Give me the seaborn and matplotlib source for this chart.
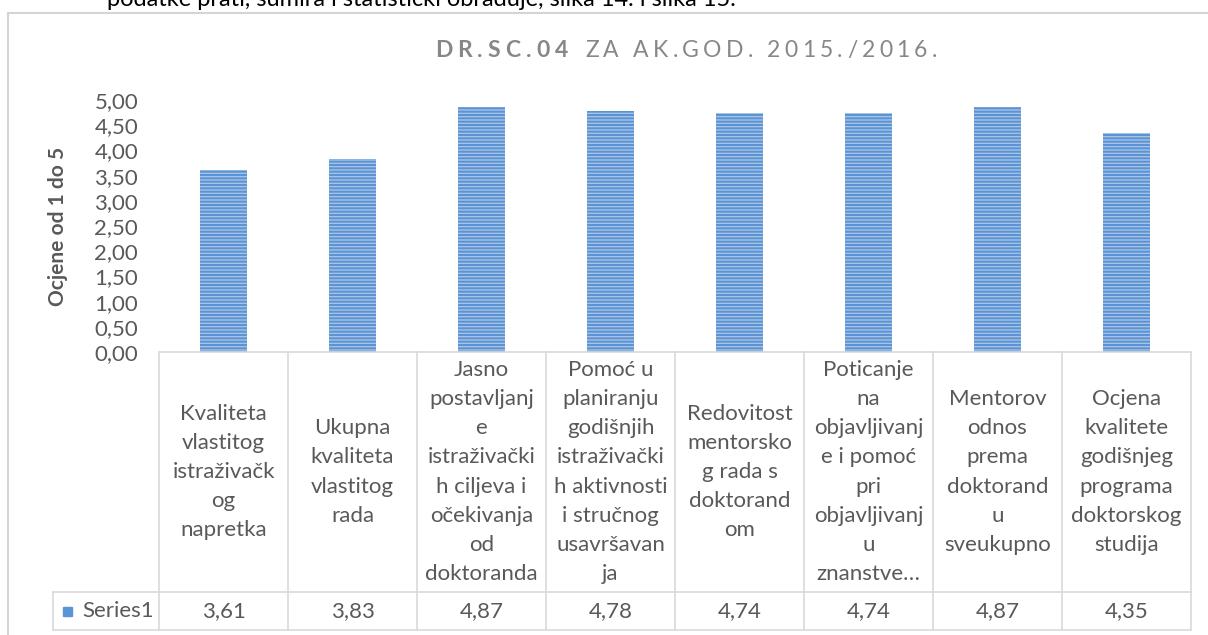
import matplotlib
matplotlib.use('Agg')
import matplotlib.pyplot as plt
import seaborn as sns
import numpy as np
from matplotlib.lines import Line2D
from matplotlib.patches import Rectangle

# podaci
categories = ['Kvaliteta\nvlastitog\nistraživačk\nog\nnapretka',
              'Ukupna\nkvaliteta\nvlastitog\nrada',
              'Jasno\npostavljanj\ne\nistraživački\nh ciljeva i\nočekivanja\nod\ndoktoranda',
              'Pomoć u\nplaniranju\ngodišnjih\nistraživački\nh aktivnosti\ni stručnog\nusavršavan\nja',
              'Redovitost\nmentorsko\ng rada s\ndoktorand\nom',
              'Poticanje\nna\nobjavljivanj\ne i pomoć\npri\nobjavljivanj\nu\nznanstve…',
              'Mentorov\nodnos\nprema\ndoktorand\nu\nsveukupno',
              'Ocjena\nkvalitete\ngodišnjeg\nprograma\ndoktorskog\nstudija']
values = [3.61, 3.83, 4.87, 4.78, 4.74, 4.74, 4.87, 4.35]
series_name = 'Series1'
yticks = [0, 0.5, 1, 1.5, 2, 2.5, 3, 3.5, 4, 4.5, 5]
title_bold = 'DR.SC.04'
title_rest = 'ZA AK.GOD. 2015./2016.'
ylabel = 'Ocjene od 1 do 5'
page_text = 'podatke prati, sumira i statistički obrađuje, slika 14. i slika 15.'

sns.set_style('white')
plt.rcParams['font.family'] = ['Lato', 'DejaVu Sans']
plt.rcParams['hatch.linewidth'] = 1.5

W, H = 1208, 635
def fx(px):
    return px / W
def fy(py):
    return 1 - py / H

txt = '#595959'
grid = '#d9d9d9'

fig = plt.figure(figsize=(W / 100, H / 100), dpi=100)
renderer = fig.canvas.get_renderer()

# okvir grafikona
fig.add_artist(Rectangle((fx(8), fy(H + 5)), fx(W + 10) - fx(8), fy(13) - fy(H + 5),
                         transform=fig.transFigure, fill=False, edgecolor='#d4d4d4', lw=1.5))
fig.text(fx(107), fy(6), page_text, fontsize=17, color='black', va='baseline')

ax_top, ax_bot, ax_l, ax_r = 100, 352, 159, 1191
ax = fig.add_axes([fx(ax_l), fy(ax_bot), fx(ax_r) - fx(ax_l), fy(ax_top) - fy(ax_bot)])
sns.barplot(x=categories, y=values, ax=ax, width=0.37, color='#a3c6ec',
            edgecolor='#5b94d6', linewidth=0, hatch='-----')
ax.set_ylim(0, 5)
ax.set_xlim(-0.5, len(values) - 0.5)
ax.set_yticks(yticks)
ax.set_yticklabels([('%.2f' % v).replace('.', ',') for v in yticks])
ax.tick_params(axis='y', length=0, pad=15, labelsize=16, labelcolor=txt)
ax.tick_params(axis='x', length=0, pad=(472 - ax_bot) * 0.72, labelsize=16, labelcolor=txt)
for lab in ax.get_xticklabels():
    lab.set_va('center')
    lab.set_linespacing(1.57)
ax.set_xlabel('')
ax.set_ylabel(ylabel, fontsize=15, fontweight='bold', color=txt, labelpad=19)
for s in ax.spines.values():
    s.set_visible(False)

# tablica podataka
def yfrac(py):
    return (ax_bot - py) / (ax_bot - ax_top)

tr = ax.get_xaxis_transform()
row_y, bot_y = 592, 630
ax.add_line(Line2D([-0.5, len(values) - 0.5], [0, 0], transform=tr, color=grid, lw=1.2, clip_on=False))
for i in range(len(values) + 1):
    ax.add_line(Line2D([i - 0.5, i - 0.5], [0, yfrac(bot_y)], transform=tr, color=grid, lw=1.2, clip_on=False))
for py in (row_y, bot_y):
    fig.add_artist(Line2D([fx(53), fx(ax_r)], [fy(py), fy(py)], color=grid, lw=1.2))
fig.add_artist(Line2D([fx(53), fx(53)], [fy(row_y), fy(bot_y)], color=grid, lw=1.2))

for i, v in enumerate(values):
    ax.text(i, yfrac(611), ('%.2f' % v).replace('.', ','), transform=tr, ha='center', va='center',
            fontsize=16, color=txt)
fig.add_artist(Rectangle((fx(63), fy(616)), fx(72) - fx(63), fy(607) - fy(616),
                         transform=fig.transFigure, color='#5b94d6'))
fig.text(fx(82), fy(611), series_name, fontsize=16, color=txt, va='center')

# naslov s razmakom slova
def text_w(s, **kw):
    t = fig.text(0, 0, s + '|', **kw)
    w = t.get_window_extent(renderer).width
    t.remove()
    t = fig.text(0, 0, '|', **kw)
    w -= t.get_window_extent(renderer).width
    t.remove()
    return w

def spaced_text(x0, x1, y, s, **kw):
    offs = [text_w(s[:k], **kw) if k else 0.0 for k in range(len(s))]
    last = text_w(s, **kw) - offs[-1]
    extra = (x1 - x0 - offs[-1] - last) / (len(s) - 1)
    for k, ch in enumerate(s):
        if ch != ' ':
            fig.text(fx(x0 + offs[k] + k * extra), fy(y), ch, va='baseline', **kw)

title_kw = dict(fontsize=16.5, color='#878787')
spaced_text(435, 568, 57, title_bold, fontweight='bold', **title_kw)
spaced_text(585, 937, 57, title_rest, **title_kw)

fig.savefig('out.png', dpi=100)
